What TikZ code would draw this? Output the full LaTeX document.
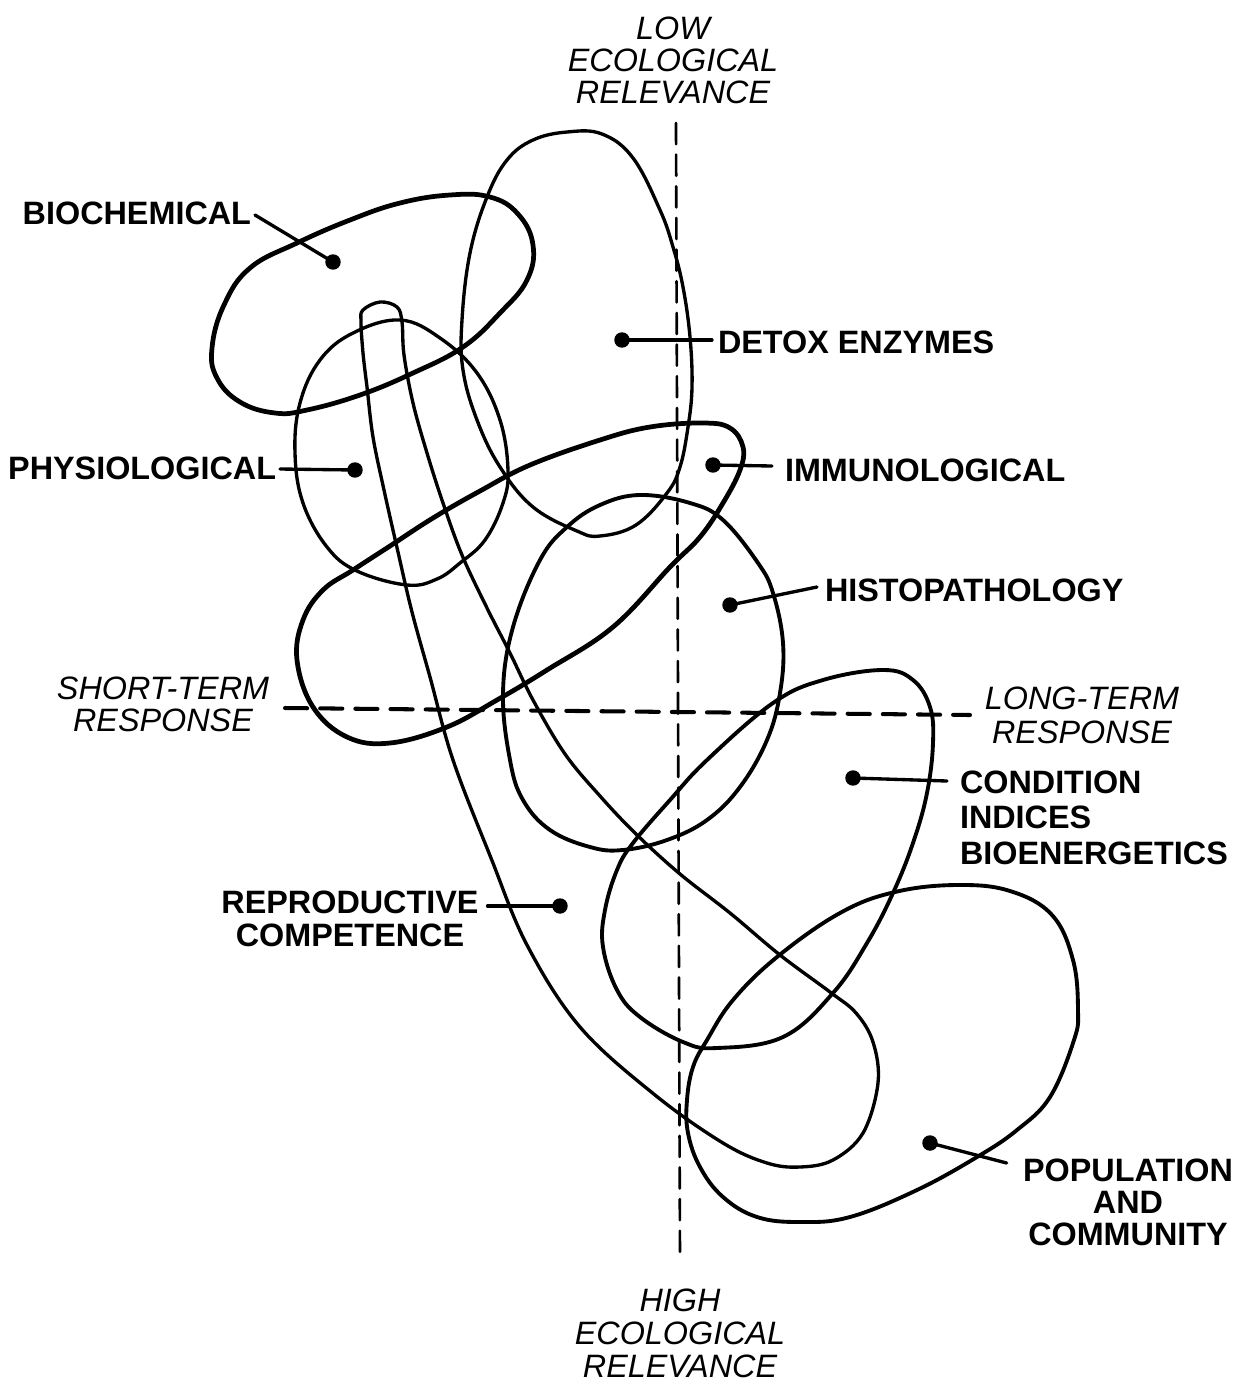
\documentclass[tikz,border=0pt]{standalone}
\usepackage{fontspec}
\setmainfont{Liberation Sans}
\begin{document}
\begin{tikzpicture}[x=0.01cm, y=-0.01cm, line cap=round, line join=round,
  region/.style={draw=black, line width=0.95pt},
  heavy/.style={draw=black, line width=1.35pt},
  medium/.style={draw=black, line width=1.1pt},
  dot/.style={circle, fill=black, inner sep=0pt, minimum size=4.4pt},
  leader/.style={draw=black, line width=0.95pt},
  tag/.style={font=\fontsize{9.2pt}{9.4pt}\selectfont\bfseries, inner sep=0pt, outer sep=0pt},
  axislbl/.style={font=\fontsize{9.2pt}{9.1pt}\selectfont\itshape, inner sep=0pt, outer sep=0pt, align=center},
  vaxis/.style={draw=black, line width=0.75pt, dash pattern=on 6pt off 3pt},
  haxis/.style={draw=black, line width=1.15pt, dash pattern=on 6.3pt off 3.7pt}]

\fill[white] (0,0) rectangle (1243,1384);
\useasboundingbox (0,0) rectangle (1243,1384);

% axes
\coordinate (vtop) at (676,123);
\coordinate (vbot) at (680,1262);
\coordinate (hleft) at (285,708);
\coordinate (hright) at (970,715);
\draw[vaxis] (vtop) -- (vbot);
\draw[haxis] (hleft) -- (hright);

% axis captions
\node[axislbl, anchor=north] (low) at (673,16.5) {LOW\\ECOLOGICAL\\RELEVANCE};
\node[axislbl, anchor=north, font=\fontsize{9.2pt}{9.4pt}\selectfont\itshape] (high) at (680,1288.5) {HIGH\\ECOLOGICAL\\RELEVANCE};
\node[axislbl, anchor=north] (short) at (163,676.5) {SHORT-TERM\\RESPONSE};
\node[axislbl, anchor=north, font=\fontsize{9.2pt}{9.7pt}\selectfont\itshape] (long) at (1082,686.5) {LONG-TERM\\RESPONSE};

% biochemical
\draw[heavy] plot[smooth cycle, tension=0.7] coordinates {
  (297,243) (350,220) (400,203) (450,195) (490,197) (518,214) (533,245)
  (527,280) (500,313) (463,347) (413,373) (360,395) (307,410) (275,413)
  (240,402) (217,378) (212,348) (224,305) (250,268)};

% detox enzymes
\draw[region] plot[smooth cycle, tension=0.65] coordinates {
  (567,132) (602,134) (633,158) (660,210) (673,247) (683,287) (690,337)
  (692,387) (688,427) (680,467) (667,493) (636,525) (600,536) (577,531)
  (533,507) (500,467) (477,420) (463,370) (462,320) (470,253) (487,197)
  (507,160) (533,140)};

% physiological
\draw[region] plot[smooth cycle, tension=0.65] coordinates {
  (400,320) (440,338) (477,373) (500,420) (508,470) (503,503) (485,540)
  (460,563) (437,579) (407,585) (357,571) (327,547) (303,503) (295,453)
  (300,403) (320,360) (353,333)};

% reproductive competence band
\draw[region] plot[smooth cycle, tension=0.6] coordinates {
  (363,310) (380,302) (397,307) (402,322)
  (404,355) (413,403) (427,453) (443,503) (462,555) (487,608) (510,653)
  (533,700) (565,754) (600,796) (636,834) (680,874) (730,913) (780,955)
  (830,992) (856,1013) (873,1042) (878,1083) (863,1133) (833,1160)
  (800,1167) (767,1163) (723,1143) (655,1095) (580,1027) (527,945)
  (491,858) (453,760) (430,677) (412,612) (398,552) (384,490)
  (373,437) (367,387) (363,353) (361,322)};

% immunological
\draw[heavy] plot[smooth cycle, tension=0.65] coordinates {
  (530,465) (600,440) (650,427) (703,423) (730,428) (743,447)
  (740,470) (723,503) (700,537) (670,567) (613,627) (547,670) (497,700)
  (447,727) (390,743) (347,737) (313,707) (297,660) (303,620) (323,590)
  (353,570) (390,546) (433,518) (480,491)};

% histopathology
\draw[medium] plot[smooth cycle, tension=0.65] coordinates {
  (640,495) (690,503) (723,520) (758,563) (773,593) (783,643) (780,693)
  (767,740) (740,787) (707,820) (667,840) (623,850) (590,847) (550,830)
  (523,800) (510,760) (503,693) (513,627) (540,560) (567,527) (600,505)};

% condition indices / bioenergetics
\draw[medium] plot[smooth cycle, tension=0.65] coordinates {
  (823,680) (883,670) (913,680) (930,707) (933,743) (927,793) (913,843)
  (893,893) (867,943) (833,993) (783,1037) (717,1048) (683,1042)
  (640,1017) (617,990) (603,947) (605,910) (617,870) (633,843)
  (670,800) (707,760) (773,703)};

% population and community
\draw[medium] plot[smooth cycle, tension=0.65] coordinates {
  (840,913) (895,892) (957,885) (1010,891) (1052,915) (1073,960)
  (1078,1010) (1074,1040) (1050,1097) (1017,1130) (977,1157) (917,1190)
  (850,1217) (800,1222) (757,1217) (723,1197) (700,1167) (688,1133)
  (687,1100) (693,1067) (707,1040) (733,1000) (777,957)};

% labels
\node[tag, anchor=east] (bioL) at (251,213) {BIOCHEMICAL};
\node[tag, anchor=east] (physL) at (276,468) {PHYSIOLOGICAL};
\node[tag, anchor=west] (detoxL) at (718,342) {DETOX ENZYMES};
\node[tag, anchor=west] (immL) at (785,470) {IMMUNOLOGICAL};
\node[tag, anchor=west] (histL) at (825,590) {HISTOPATHOLOGY};
\node[tag, anchor=north west, align=left, font=\fontsize{9.2pt}{10.1pt}\selectfont\bfseries] (condL) at (960,770.5) {CONDITION\\INDICES\\BIOENERGETICS};
\node[tag, anchor=north, align=center] (repL) at (350,890.5) {REPRODUCTIVE\\COMPETENCE};
\node[tag, anchor=north, align=center, font=\fontsize{9.2pt}{9.1pt}\selectfont\bfseries] (popL) at (1128,1158.5) {POPULATION\\AND\\COMMUNITY};

% marker dots
\node[dot] (bioD) at (333,262) {};
\node[dot] (detoxD) at (622,340) {};
\node[dot] (physD) at (355,470) {};
\node[dot] (immD) at (713,465) {};
\node[dot] (histD) at (730,605) {};
\node[dot] (condD) at (853,778) {};
\node[dot] (repD) at (560,906) {};
\node[dot] (popD) at (930,1143) {};

% leaders
\draw[leader] ([shift={(4,2)}]bioL.east) -- (bioD.center);
\draw[leader] ([shift={(4,1)}]physL.east) -- (physD.center);
\draw[leader] (detoxD.center) -- ([shift={(-6,-2)}]detoxL.west);
\draw[leader] (immD.center) -- ([shift={(-13,-4)}]immL.west);
\draw[leader] (histD.center) -- ([shift={(-8,-3)}]histL.west);
\draw[leader] (condD.center) -- ([shift={(-13,10.5)}]condL.north west);
\draw[leader] ([shift={(9,15.5)}]repL.north east) -- (repD.center);
\draw[leader] (popD.center) -- ([shift={(-16.5,4.5)}]popL.north west);

\end{tikzpicture}
\end{document}
